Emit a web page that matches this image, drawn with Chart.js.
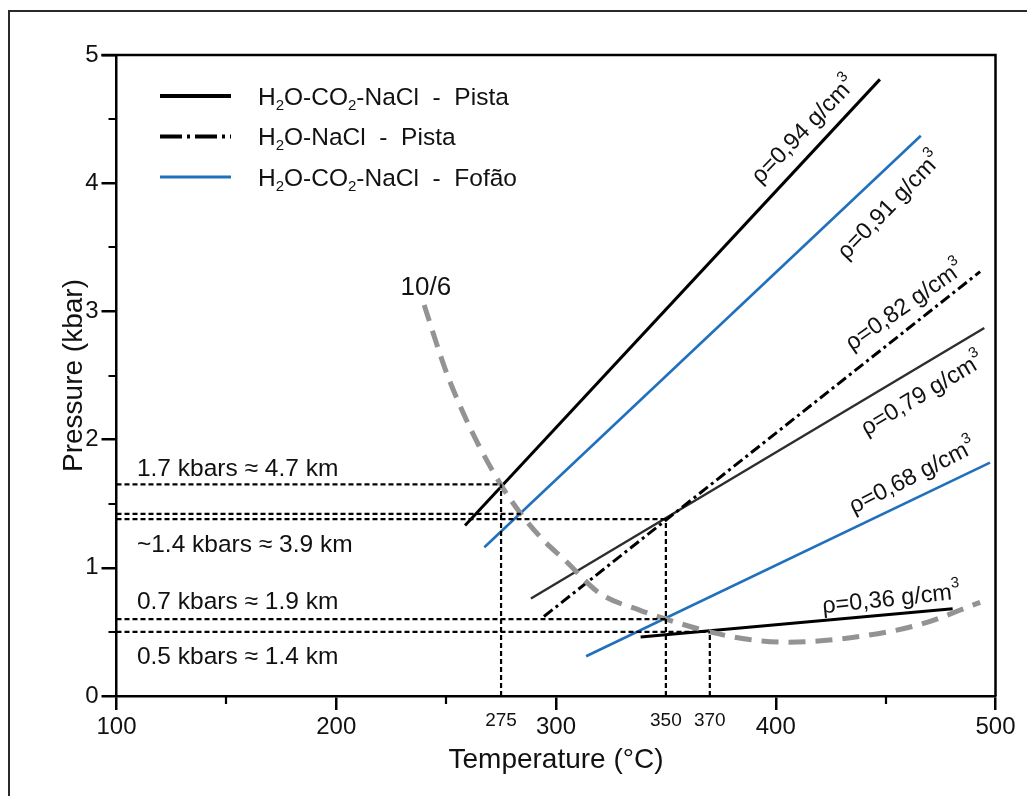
<!DOCTYPE html>
<html>
<head>
<meta charset="utf-8">
<script src="https://cdn.jsdelivr.net/npm/chart.js@4.4.1/dist/chart.umd.min.js"></script>
<style>
html,body{margin:0;padding:0;background:#fff;}
#wrap{position:relative;width:1027px;height:796px;overflow:hidden;}
</style>
</head>
<body>
<div id="wrap"><canvas id="c" width="1027" height="796"></canvas></div>
<script>
// ---------------- DATA ----------------
const xTickValues = [100, 200, 300, 400, 500];
const xMinorTicks = [150, 250, 450];
const yTickValues = [0, 1, 2, 3, 4, 5];
const yMinorTicks = [0.5, 1.5, 2.5, 3.5, 4.5];

// isochores: start/end temperature (°C) and pressure (kbar)
const isoNames  = ['ρ=0,94 g/cm^3', 'ρ=0,91 g/cm^3', 'ρ=0,82 g/cm^3', 'ρ=0,79 g/cm^3', 'ρ=0,68 g/cm^3', 'ρ=0,36 g/cm^3'];
const isoSystem = ['Pista CO2', 'Fofao', 'Pista NaCl', 'Pista CO2', 'Fofao', 'Pista CO2'];
const isoT0 = [258.6, 267.4, 294.5, 288.6, 313.7, 338.5];
const isoP0 = [1.33, 1.16, 0.62, 0.76, 0.31, 0.46];
const isoT1 = [447.4, 466.0, 493.0, 494.9, 497.5, 480.5];
const isoP1 = [4.81, 4.37, 3.31, 2.87, 1.82, 0.68];

// 10/6 curve (gray dashed)
const curveT = [240, 250, 258, 265, 274.5, 283.6, 294, 304, 320, 338, 350, 370, 388, 406, 434, 465, 493];
const curveP = [3.05, 2.53, 2.2, 1.95, 1.66, 1.43, 1.22, 1.06, 0.8, 0.67, 0.6, 0.5, 0.44, 0.42, 0.455, 0.555, 0.73];

// reference (dashed) lines
const refLevels = [1.65, 1.42, 1.38, 0.6, 0.5];
const refLevelEnds = [275, 284, 350, 350, 370];
const refTemps = [275, 350, 370];
const refTempTops = [1.65, 1.38, 0.5];

const depthTexts = ['1.7 kbars ≈ 4.7 km', '~1.4 kbars ≈ 3.9 km', '0.7 kbars ≈ 1.9 km', '0.5 kbars ≈ 1.4 km'];
const legendTexts = ['H_2O-CO_2-NaCl  -  Pista', 'H_2O-NaCl  -  Pista', 'H_2O-CO_2-NaCl  -  Fofão'];
const curveLabel = '10/6';

// ---------------- STYLE / LAYOUT ----------------
const FONT = '"Liberation Sans", Arial, Helvetica, sans-serif';
const TXT = '#111';
const BLUE = '#2070bd';
const sysStyle = {
  'Pista CO2': {color: '#000', width: 3, dash: []},
  'Fofao': {color: BLUE, width: 2.6, dash: []},
  'Pista NaCl': {color: '#000', width: 3, dash: [11, 4, 3, 4]}
};
const isoLineOverride = [null, null, null, {color: '#2d2d2d', width: 2.4}, null, null];
// label anchors (center, data coords) & angles (deg)
const isoLabelPos = [[412.4, 4.42, -46], [451.5, 3.83, -46], [458.5, 3.05, -35], [466.5, 2.36, -31], [462, 1.72, -27], [452.5, 0.765, -6]];
const depthPos = [[109.3, 1.716], [109.3, 1.123], [109.3, 0.675], [109.3, 0.25]];

Chart.defaults.font.family = FONT;
Chart.defaults.color = TXT;

const datasets = [];
refLevels.forEach((p, i) => datasets.push({
  data: [{x: 100, y: p}, {x: refLevelEnds[i], y: p}],
  showLine: true, borderColor: '#000', borderWidth: 2.2, borderDash: [5, 3], pointRadius: 0, fill: false
}));
refTemps.forEach((t, i) => datasets.push({
  data: [{x: t, y: 0}, {x: t, y: refTempTops[i]}],
  showLine: true, borderColor: '#000', borderWidth: 2.2, borderDash: [5, 3], pointRadius: 0, fill: false
}));
datasets.push({
  data: curveT.map((t, i) => ({x: t, y: curveP[i]})),
  showLine: true, borderColor: '#939393', borderWidth: 5, borderDash: [17, 10], pointRadius: 0,
  cubicInterpolationMode: 'monotone', fill: false
});
isoNames.forEach((n, i) => {
  const st = Object.assign({}, sysStyle[isoSystem[i]], isoLineOverride[i] || {});
  datasets.push({
    data: [{x: isoT0[i], y: isoP0[i]}, {x: isoT1[i], y: isoP1[i]}],
    showLine: true, borderColor: st.color, borderWidth: st.width, borderDash: st.dash,
    pointRadius: 0, fill: false
  });
});

// rich text: _x subscript, ^x superscript
function drawRich(ctx, str, x, y, size, align) {
  const parts = [];
  let i = 0, buf = '';
  while (i < str.length) {
    const c = str[i];
    if ((c === '_' || c === '^') && i + 1 < str.length) {
      if (buf) parts.push({t: buf, k: 'n'}); buf = '';
      parts.push({t: str[i + 1], k: c === '_' ? 'sub' : 'sup'});
      i += 2;
    } else { buf += c; i++; }
  }
  if (buf) parts.push({t: buf, k: 'n'});
  const small = Math.round(size * 0.62);
  let total = 0;
  parts.forEach(p => {
    ctx.font = (p.k === 'n' ? size : small) + 'px ' + FONT;
    p.w = ctx.measureText(p.t).width; total += p.w;
  });
  let cx = align === 'center' ? x - total / 2 : x;
  ctx.textAlign = 'left';
  ctx.textBaseline = 'alphabetic';
  parts.forEach(p => {
    ctx.font = (p.k === 'n' ? size : small) + 'px ' + FONT;
    let dy = 0;
    if (p.k === 'sub') dy = size * 0.22;
    if (p.k === 'sup') dy = -size * 0.5;
    ctx.fillText(p.t, cx, y + dy);
    cx += p.w;
  });
}

const overlay = {
  id: 'overlay',
  beforeDraw(chart) {
    const ctx = chart.ctx;
    ctx.save();
    ctx.fillStyle = '#fff';
    ctx.fillRect(0, 0, chart.width, chart.height);
    ctx.strokeStyle = '#2a2a2a';
    ctx.lineWidth = 2;
    ctx.beginPath();
    ctx.moveTo(9, chart.height + 5); ctx.lineTo(9, 11); ctx.lineTo(chart.width + 5, 11);
    ctx.stroke();
    ctx.restore();
  },
  afterDraw(chart) {
    const {ctx, chartArea: a, scales: {x, y}} = chart;
    ctx.save();
    // plot box
    ctx.strokeStyle = '#000';
    ctx.lineWidth = 2.5;
    ctx.beginPath();
    ctx.moveTo(a.left - 15, a.top); ctx.lineTo(a.right, a.top); ctx.lineTo(a.right, a.bottom);
    ctx.stroke();
    // minor ticks
    ctx.lineWidth = 2.2;
    ctx.beginPath();
    xMinorTicks.forEach(v => { const px = Math.round(x.getPixelForValue(v)); ctx.moveTo(px, a.bottom); ctx.lineTo(px, a.bottom + 8); });
    yMinorTicks.forEach(v => { const py = Math.round(y.getPixelForValue(v)); ctx.moveTo(a.left, py); ctx.lineTo(a.left - 8, py); });
    ctx.stroke();
    // small labels under reference temps
    ctx.fillStyle = TXT;
    ctx.font = '19px ' + FONT;
    ctx.textAlign = 'center';
    ctx.textBaseline = 'alphabetic';
    refTemps.forEach(t => ctx.fillText(String(t), x.getPixelForValue(t), a.bottom + 30));
    // legend
    const lgY = [96, 136.5, 177];
    const lgStyle = [
      {color: '#000', width: 4, dash: []},
      {color: '#000', width: 4, dash: [22, 5, 3, 5]},
      {color: BLUE, width: 3, dash: []}
    ];
    legendTexts.forEach((t, i) => {
      ctx.strokeStyle = lgStyle[i].color;
      ctx.lineWidth = lgStyle[i].width;
      ctx.setLineDash(lgStyle[i].dash);
      ctx.beginPath(); ctx.moveTo(160, lgY[i]); ctx.lineTo(231, lgY[i]); ctx.stroke();
      ctx.setLineDash([]);
      ctx.fillStyle = TXT;
      drawRich(ctx, t, 258, lgY[i] + 8.5, 24.5, 'left');
    });
    // isochore labels
    isoNames.forEach((n, i) => {
      const [tx, ty, ang] = isoLabelPos[i];
      ctx.save();
      ctx.translate(x.getPixelForValue(tx), y.getPixelForValue(ty));
      ctx.rotate(ang * Math.PI / 180);
      ctx.fillStyle = TXT;
      drawRich(ctx, n, 0, 8, 23.5, 'center');
      ctx.restore();
    });
    // curve label
    ctx.fillStyle = TXT;
    ctx.font = '26px ' + FONT;
    ctx.textAlign = 'center';
    ctx.textBaseline = 'middle';
    ctx.fillText(curveLabel, x.getPixelForValue(240.8), y.getPixelForValue(3.18));
    // depth annotations
    ctx.font = '24.5px ' + FONT;
    ctx.textAlign = 'left';
    ctx.textBaseline = 'alphabetic';
    depthTexts.forEach((t, i) => ctx.fillText(t, x.getPixelForValue(depthPos[i][0]), y.getPixelForValue(depthPos[i][1])));
    ctx.restore();
  }
};

new Chart(document.getElementById('c'), {
  type: 'scatter',
  data: {datasets},
  options: {
    responsive: false,
    animation: false,
    devicePixelRatio: 1,
    layout: {padding: {top: 55, right: 31.5, left: 0, bottom: 0}},
    plugins: {legend: {display: false}, tooltip: {enabled: false}},
    elements: {line: {tension: 0, borderCapStyle: 'butt'}},
    scales: {
      x: {
        type: 'linear', min: 100, max: 500,
        afterBuildTicks: s => { s.ticks = xTickValues.map(v => ({value: v})); },
        afterFit: s => { s.height = 100; },
        ticks: {font: {size: 24}, color: TXT, padding: 3, autoSkip: false, maxRotation: 0},
        grid: {drawOnChartArea: false, drawTicks: true, tickLength: 14, color: '#000', lineWidth: 2.5},
        border: {display: true, color: '#000', width: 2.5},
        title: {display: true, text: 'Temperature (°C)', font: {size: 28}, color: TXT, padding: {top: 0, bottom: 19}}
      },
      y: {
        type: 'linear', min: 0, max: 5,
        afterBuildTicks: s => { s.ticks = yTickValues.map(v => ({value: v})); },
        afterFit: s => { s.width = 116.5; },
        ticks: {font: {size: 24}, color: TXT, padding: 3},
        grid: {drawOnChartArea: false, drawTicks: true, tickLength: 15, color: '#000', lineWidth: 2.5},
        border: {display: true, color: '#000', width: 2.5},
        title: {display: true, text: 'Pressure (kbar)', font: {size: 28}, color: TXT, padding: {top: 57, bottom: 0}}
      }
    }
  },
  plugins: [overlay]
});
</script>
</body>
</html>
